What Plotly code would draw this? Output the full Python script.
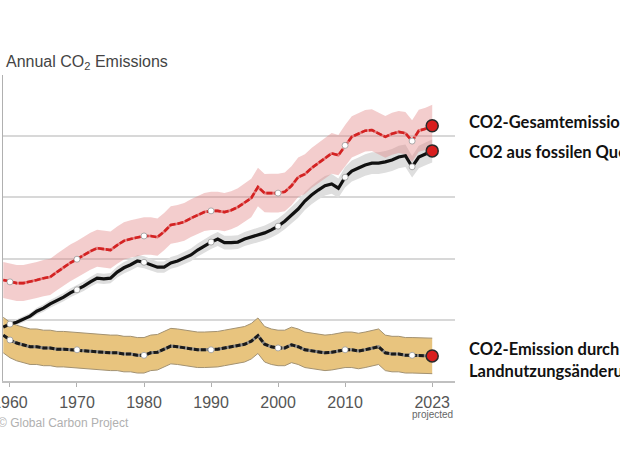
import numpy as np
import plotly.graph_objects as go

# ---------------- data (GtCO2 per year) ----------------
years = list(range(1959, 2024))

fossil = [8.8, 9.3, 9.6, 10.1, 10.6, 11.4, 11.9, 12.6, 13.1, 13.7,
          14.4, 14.9, 15.5, 16.2, 16.8, 16.7, 16.8, 17.8, 18.5, 19.0,
          19.6, 19.4, 19.0, 18.6, 18.6, 19.3, 19.6, 20.1, 20.6, 21.4,
          22.1, 22.7, 23.2, 22.6, 22.6, 22.7, 23.2, 23.5, 23.9, 24.2,
          24.7, 25.3, 26.1, 27.1, 28.1, 29.4, 30.4, 31.2, 31.9, 32.2,
          31.5, 33.3, 34.3, 34.8, 35.3, 35.6, 35.6, 35.8, 36.1, 36.6,
          36.8, 35.0, 36.6, 37.1, 37.6]

land = [7.5, 6.7, 6.2, 5.9, 5.6, 5.6, 5.4, 5.4, 5.2, 5.2,
        5.1, 5.1, 4.9, 4.9, 4.7, 4.7, 4.6, 4.6, 4.4, 4.4,
        4.2, 4.2, 4.6, 4.7, 5.2, 5.7, 5.6, 5.4, 5.2, 5.1,
        5.1, 5.1, 5.2, 5.4, 5.6, 5.9, 6.0, 6.5, 7.4, 6.0,
        5.6, 5.4, 5.4, 5.9, 5.6, 5.1, 4.9, 4.7, 4.6, 4.7,
        4.9, 5.1, 5.1, 4.9, 5.1, 5.4, 5.6, 4.6, 4.4, 4.4,
        4.2, 4.2, 4.2, 4.1, 4.1]

total = [16.5, 16.2, 16.0, 16.0, 16.2, 16.5, 16.8, 17.0, 17.8, 18.6,
         19.3, 19.9, 20.6, 21.2, 21.7, 21.6, 21.4, 22.2, 22.9, 23.2,
         23.5, 23.7, 23.7, 23.5, 24.4, 25.5, 25.7, 26.0, 26.6, 27.1,
         27.6, 27.8, 27.8, 27.6, 27.9, 28.4, 29.1, 29.9, 31.7, 30.7,
         30.7, 30.7, 30.9, 31.9, 33.3, 33.8, 34.8, 35.6, 36.4, 37.2,
         36.9, 38.5, 39.9, 40.4, 40.9, 41.0, 40.5, 39.9, 40.4, 40.7,
         40.5, 39.2, 40.9, 41.2, 41.7]

fossil_rel_unc = 0.05      # +-5 % band
land_unc = 2.9             # +- GtCO2 band

decade_years = [1960, 1970, 1980, 1990, 2000, 2010, 2020]
projected_year = 2023
tick_vals = [1960, 1970, 1980, 1990, 2000, 2010, 2023]
tick_text = ["1960", "1970", "1980", "1990", "2000", "2010", "2023"]

title_text = "Annual CO<sub>2</sub> Emissions"
source_text = "© Global Carbon Project"
label_total = "CO2-Gesamtemissionen"
label_fossil = "CO2 aus fossilen Quellen"
label_land = ["CO2-Emission durch", "Landnutzungsänderung"]

# ---------------- layout geometry ----------------
W, H = 620, 465
ML, MR, MT, MB = 3, 165, 75, 84
PW, PH = W - ML - MR, H - MT - MB


def px_x(p):
    return (p - ML) / PW


def px_y(p):
    return (H - MB - p) / PH


yrs = np.array(years)
f = np.array(fossil)
l = np.array(land)
t = np.array(total)
f_unc = f * fossil_rel_unc
t_unc = np.sqrt(f_unc ** 2 + land_unc ** 2)

fig = go.Figure()

# fossil band
fig.add_trace(go.Scatter(x=yrs, y=f + f_unc, mode="lines", line=dict(width=0)))
fig.add_trace(go.Scatter(x=yrs, y=f - f_unc, mode="lines", line=dict(width=0),
                         fill="tonexty", fillcolor="#dedede"))
# total band
fig.add_trace(go.Scatter(x=yrs, y=t + t_unc, mode="lines", line=dict(width=0)))
fig.add_trace(go.Scatter(x=yrs, y=t - t_unc, mode="lines", line=dict(width=0),
                         fill="tonexty", fillcolor="rgba(224,130,130,0.40)"))
# land band
fig.add_trace(go.Scatter(x=yrs, y=l + land_unc, mode="lines",
                         line=dict(width=1, color="#a39272")))
fig.add_trace(go.Scatter(x=yrs, y=l - land_unc, mode="lines",
                         line=dict(width=1, color="#a39272"),
                         fill="tonexty", fillcolor="#e8c47e"))

# lines
fig.add_trace(go.Scatter(x=yrs, y=f, mode="lines",
                         line=dict(color="#111111", width=3.2)))
fig.add_trace(go.Scatter(x=yrs, y=t, mode="lines",
                         line=dict(color="#e27a7a", width=2.6)))
fig.add_trace(go.Scatter(x=yrs, y=t, mode="lines",
                         line=dict(color="#d42222", width=2.6, dash="6px,2px")))
fig.add_trace(go.Scatter(x=yrs, y=l, mode="lines",
                         line=dict(color="#8a8a8a", width=3)))
fig.add_trace(go.Scatter(x=yrs, y=l, mode="lines",
                         line=dict(color="#1a1a1a", width=3, dash="5px,2px")))

# decade markers
idx = [years.index(y) for y in decade_years]
for arr in (f, t, l):
    fig.add_trace(go.Scatter(x=[years[i] for i in idx], y=[arr[i] for i in idx],
                             mode="markers",
                             marker=dict(size=6, color="white",
                                         line=dict(width=0.8, color="#999999"))))
# projected points
pi = years.index(projected_year)
fig.add_trace(go.Scatter(x=[projected_year] * 3, y=[t[pi], f[pi], l[pi]],
                         mode="markers",
                         marker=dict(size=12, color="#d81e1e",
                                     line=dict(width=1.5, color="#2a2a2a"))))

ann = []
ann.append(dict(x=px_x(4), y=px_y(63), xref="paper", yref="paper",
                xanchor="left", yanchor="middle", text=title_text, showarrow=False,
                font=dict(family="Liberation Sans, Arial", size=16, color="#444444")))
ann.append(dict(x=px_x(-4), y=px_y(423), xref="paper", yref="paper",
                xanchor="left", yanchor="middle", text=source_text, showarrow=False,
                font=dict(family="Liberation Sans, Arial", size=12, color="#b0b0b0")))
ann.append(dict(x=projected_year, y=px_y(414), xref="x", yref="paper",
                xanchor="center", yanchor="middle", text="projected", showarrow=False,
                font=dict(family="Liberation Sans, Arial", size=10, color="#666666")))

lab_font = dict(family="Lato, Noto Sans", size=16.5, color="#111111")
for txt, py in ((label_total, 122), (label_fossil, 152),
                (label_land[0], 349), (label_land[1], 371)):
    ann.append(dict(x=px_x(467), y=px_y(py), xref="paper", yref="paper",
                    xanchor="left", yanchor="middle", text="<b>" + txt + "</b>",
                    showarrow=False, font=lab_font))

fig.update_layout(
    width=W, height=H,
    margin=dict(l=ML, r=MR, t=MT, b=MB, pad=0, autoexpand=False),
    paper_bgcolor="white", plot_bgcolor="white",
    showlegend=False,
    annotations=ann,
    xaxis=dict(range=[1958.96, 2026.4], tickvals=tick_vals, ticktext=tick_text,
               automargin=False,
               showgrid=False, zeroline=False, showline=True,
               linecolor="#c0c0c0", linewidth=2,
               ticks="outside", ticklen=4, tickcolor="#b0b0b0",
               ticklabeloverflow="allow", ticklabelstandoff=2,
               tickfont=dict(family="Liberation Sans, Arial", size=16, color="#555555")),
    yaxis=dict(range=[0, 50], dtick=10, showticklabels=False, automargin=False,
               showgrid=True, gridcolor="#d8d8d8", gridwidth=1.5,
               zeroline=False, showline=True, linecolor="#b0b0b0", linewidth=1,
               ticks=""),
)
fig.update_traces(hoverinfo="skip")

fig.write_html("out.html")
